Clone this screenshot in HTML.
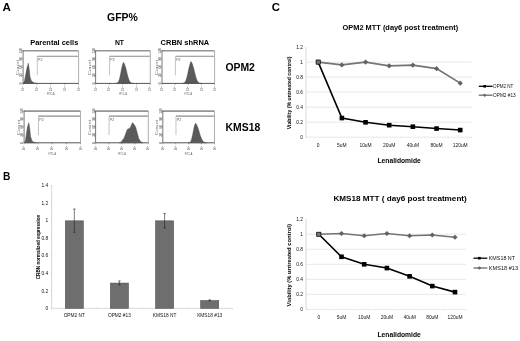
<!DOCTYPE html>
<html><head><meta charset="utf-8"><title>Figure</title>
<style>
html,body{margin:0;padding:0;background:#fff;}
body{width:520px;height:341px;overflow:hidden;}
svg{display:block;filter:blur(0.4px);font-family:"Liberation Sans", sans-serif;}
</style></head>
<body>
<svg width="520" height="341" viewBox="0 0 520 341">
<rect x="0" y="0" width="520" height="341" fill="#fff"/>
<text x="2.6" y="11.2" font-size="11.2" font-weight="bold" fill="#000" text-anchor="start" textLength="8.4" lengthAdjust="spacingAndGlyphs">A</text>
<text x="107.1" y="21.3" font-size="10.9" font-weight="bold" fill="#000" text-anchor="start" textLength="30.8" lengthAdjust="spacingAndGlyphs">GFP%</text>
<text x="30.2" y="45.3" font-size="7.5" font-weight="bold" fill="#000" text-anchor="start" textLength="48.1" lengthAdjust="spacingAndGlyphs">Parental cells</text>
<text x="114.9" y="45.3" font-size="7.5" font-weight="bold" fill="#000" text-anchor="start" textLength="9.1" lengthAdjust="spacingAndGlyphs">NT</text>
<text x="160.6" y="45.3" font-size="7.5" font-weight="bold" fill="#000" text-anchor="start" textLength="48.6" lengthAdjust="spacingAndGlyphs">CRBN shRNA</text>
<text x="225.4" y="70.9" font-size="10.7" font-weight="bold" fill="#000" text-anchor="start" textLength="29.5" lengthAdjust="spacingAndGlyphs">OPM2</text>
<text x="225.6" y="130.6" font-size="10.5" font-weight="bold" fill="#000" text-anchor="start" textLength="34.6" lengthAdjust="spacingAndGlyphs">KMS18</text>
<line x1="21.90" y1="83.40" x2="23.10" y2="83.40" stroke="#777" stroke-width="0.6"/>
<line x1="21.90" y1="75.25" x2="23.10" y2="75.25" stroke="#777" stroke-width="0.6"/>
<line x1="21.90" y1="67.10" x2="23.10" y2="67.10" stroke="#777" stroke-width="0.6"/>
<line x1="21.90" y1="58.95" x2="23.10" y2="58.95" stroke="#777" stroke-width="0.6"/>
<line x1="21.90" y1="50.80" x2="23.10" y2="50.80" stroke="#777" stroke-width="0.6"/>
<text transform="translate(22.10,83.40) rotate(-90)" x="0" y="0" font-size="3.3" fill="#444" text-anchor="middle">0</text>
<text transform="translate(22.10,75.25) rotate(-90)" x="0" y="0" font-size="3.3" fill="#444" text-anchor="middle">30</text>
<text transform="translate(22.10,67.10) rotate(-90)" x="0" y="0" font-size="3.3" fill="#444" text-anchor="middle">60</text>
<text transform="translate(22.10,58.95) rotate(-90)" x="0" y="0" font-size="3.3" fill="#444" text-anchor="middle">90</text>
<text transform="translate(22.10,50.80) rotate(-90)" x="0" y="0" font-size="3.3" fill="#444" text-anchor="middle">120</text>
<text transform="translate(18.70,67.60) rotate(-90)" x="0" y="0" font-size="3.2" fill="#777" text-anchor="middle" textLength="15.5" lengthAdjust="spacingAndGlyphs">Count</text>
<line x1="23.10" y1="83.40" x2="23.10" y2="84.90" stroke="#777" stroke-width="0.6"/>
<text transform="translate(24.20,88.60) rotate(-90)" x="0" y="0" font-size="3.0" fill="#555" text-anchor="middle">10<tspan font-size="2.2" dy="-1">1</tspan></text>
<line x1="36.98" y1="83.40" x2="36.98" y2="84.90" stroke="#777" stroke-width="0.6"/>
<text transform="translate(38.08,88.60) rotate(-90)" x="0" y="0" font-size="3.0" fill="#555" text-anchor="middle">10<tspan font-size="2.2" dy="-1">2</tspan></text>
<line x1="50.85" y1="83.40" x2="50.85" y2="84.90" stroke="#777" stroke-width="0.6"/>
<text transform="translate(51.95,88.60) rotate(-90)" x="0" y="0" font-size="3.0" fill="#555" text-anchor="middle">10<tspan font-size="2.2" dy="-1">3</tspan></text>
<line x1="64.72" y1="83.40" x2="64.72" y2="84.90" stroke="#777" stroke-width="0.6"/>
<text transform="translate(65.82,88.60) rotate(-90)" x="0" y="0" font-size="3.0" fill="#555" text-anchor="middle">10<tspan font-size="2.2" dy="-1">4</tspan></text>
<line x1="78.60" y1="83.40" x2="78.60" y2="84.90" stroke="#777" stroke-width="0.6"/>
<text transform="translate(79.70,88.60) rotate(-90)" x="0" y="0" font-size="3.0" fill="#555" text-anchor="middle">10<tspan font-size="2.2" dy="-1">5</tspan></text>
<text x="50.85" y="95.30" font-size="3.4" fill="#555" text-anchor="middle" textLength="7.6" lengthAdjust="spacingAndGlyphs">FITC-A</text>
<path d="M23.38,83.40 L23.66,82.75 L24.49,80.79 L25.60,74.92 L26.98,67.75 L28.32,63.19 L29.21,69.06 L30.04,76.88 L31.43,81.12 L34.20,82.91 L37.53,83.40 Z" fill="#5a5a5a" stroke="#444" stroke-width="0.4"/>
<line x1="23.10" y1="50.80" x2="78.60" y2="50.80" stroke="#959595" stroke-width="1.6"/>
<line x1="78.60" y1="50.80" x2="78.60" y2="83.40" stroke="#999" stroke-width="0.8"/>
<line x1="23.10" y1="50.10" x2="23.10" y2="83.40" stroke="#555" stroke-width="0.8"/>
<line x1="23.10" y1="83.40" x2="78.60" y2="83.40" stroke="#555" stroke-width="1"/>
<line x1="37.25" y1="56.30" x2="78.00" y2="56.30" stroke="#8a8a8a" stroke-width="1.1"/>
<line x1="37.25" y1="56.30" x2="37.25" y2="75.30" stroke="#aaa" stroke-width="0.7"/>
<text x="38.05" y="61.10" font-size="3.6" fill="#555">P2</text>
<line x1="94.40" y1="83.40" x2="95.60" y2="83.40" stroke="#777" stroke-width="0.6"/>
<line x1="94.40" y1="75.25" x2="95.60" y2="75.25" stroke="#777" stroke-width="0.6"/>
<line x1="94.40" y1="67.10" x2="95.60" y2="67.10" stroke="#777" stroke-width="0.6"/>
<line x1="94.40" y1="58.95" x2="95.60" y2="58.95" stroke="#777" stroke-width="0.6"/>
<line x1="94.40" y1="50.80" x2="95.60" y2="50.80" stroke="#777" stroke-width="0.6"/>
<text transform="translate(94.60,83.40) rotate(-90)" x="0" y="0" font-size="3.3" fill="#444" text-anchor="middle">0</text>
<text transform="translate(94.60,75.25) rotate(-90)" x="0" y="0" font-size="3.3" fill="#444" text-anchor="middle">30</text>
<text transform="translate(94.60,67.10) rotate(-90)" x="0" y="0" font-size="3.3" fill="#444" text-anchor="middle">60</text>
<text transform="translate(94.60,58.95) rotate(-90)" x="0" y="0" font-size="3.3" fill="#444" text-anchor="middle">90</text>
<text transform="translate(94.60,50.80) rotate(-90)" x="0" y="0" font-size="3.3" fill="#444" text-anchor="middle">120</text>
<text transform="translate(91.20,67.60) rotate(-90)" x="0" y="0" font-size="3.2" fill="#777" text-anchor="middle" textLength="15.5" lengthAdjust="spacingAndGlyphs">Count</text>
<line x1="95.60" y1="83.40" x2="95.60" y2="84.90" stroke="#777" stroke-width="0.6"/>
<text transform="translate(96.70,88.60) rotate(-90)" x="0" y="0" font-size="3.0" fill="#555" text-anchor="middle">10<tspan font-size="2.2" dy="-1">1</tspan></text>
<line x1="109.28" y1="83.40" x2="109.28" y2="84.90" stroke="#777" stroke-width="0.6"/>
<text transform="translate(110.38,88.60) rotate(-90)" x="0" y="0" font-size="3.0" fill="#555" text-anchor="middle">10<tspan font-size="2.2" dy="-1">2</tspan></text>
<line x1="122.95" y1="83.40" x2="122.95" y2="84.90" stroke="#777" stroke-width="0.6"/>
<text transform="translate(124.05,88.60) rotate(-90)" x="0" y="0" font-size="3.0" fill="#555" text-anchor="middle">10<tspan font-size="2.2" dy="-1">3</tspan></text>
<line x1="136.62" y1="83.40" x2="136.62" y2="84.90" stroke="#777" stroke-width="0.6"/>
<text transform="translate(137.72,88.60) rotate(-90)" x="0" y="0" font-size="3.0" fill="#555" text-anchor="middle">10<tspan font-size="2.2" dy="-1">4</tspan></text>
<line x1="150.30" y1="83.40" x2="150.30" y2="84.90" stroke="#777" stroke-width="0.6"/>
<text transform="translate(151.40,88.60) rotate(-90)" x="0" y="0" font-size="3.0" fill="#555" text-anchor="middle">10<tspan font-size="2.2" dy="-1">5</tspan></text>
<text x="122.95" y="95.30" font-size="3.4" fill="#555" text-anchor="middle" textLength="7.6" lengthAdjust="spacingAndGlyphs">FITC-A</text>
<path d="M115.74,83.40 L115.74,83.36 L116.07,83.33 L116.39,83.29 L116.71,83.21 L117.04,83.10 L117.36,82.93 L117.68,82.69 L118.00,82.34 L118.33,81.88 L118.65,81.27 L118.97,80.49 L119.30,79.52 L119.62,78.36 L119.94,77.02 L120.27,75.51 L120.59,73.88 L120.91,72.18 L121.24,70.48 L121.56,68.84 L121.88,67.35 L122.20,66.07 L122.53,64.83 L122.85,63.71 L123.17,62.90 L123.50,62.37 L123.91,62.90 L124.33,63.71 L124.74,64.83 L125.16,66.07 L125.57,67.35 L125.99,68.84 L126.40,70.48 L126.82,72.18 L127.24,73.88 L127.65,75.51 L128.07,77.02 L128.48,78.36 L128.90,79.52 L129.31,80.49 L129.73,81.27 L130.14,81.88 L130.56,82.34 L130.97,82.69 L131.39,82.93 L131.80,83.10 L132.22,83.21 L132.64,83.29 L133.05,83.33 L133.47,83.36 L133.47,83.40 Z" fill="#5a5a5a" stroke="#444" stroke-width="0.4"/>
<line x1="95.60" y1="50.80" x2="150.30" y2="50.80" stroke="#959595" stroke-width="1.6"/>
<line x1="150.30" y1="50.80" x2="150.30" y2="83.40" stroke="#999" stroke-width="0.8"/>
<line x1="95.60" y1="50.10" x2="95.60" y2="83.40" stroke="#555" stroke-width="0.8"/>
<line x1="95.60" y1="83.40" x2="150.30" y2="83.40" stroke="#555" stroke-width="1"/>
<line x1="109.55" y1="56.30" x2="149.70" y2="56.30" stroke="#8a8a8a" stroke-width="1.1"/>
<line x1="109.55" y1="56.30" x2="109.55" y2="75.30" stroke="#aaa" stroke-width="0.7"/>
<text x="110.35" y="61.10" font-size="3.6" fill="#555">P2</text>
<line x1="160.80" y1="83.40" x2="162.00" y2="83.40" stroke="#777" stroke-width="0.6"/>
<line x1="160.80" y1="75.25" x2="162.00" y2="75.25" stroke="#777" stroke-width="0.6"/>
<line x1="160.80" y1="67.10" x2="162.00" y2="67.10" stroke="#777" stroke-width="0.6"/>
<line x1="160.80" y1="58.95" x2="162.00" y2="58.95" stroke="#777" stroke-width="0.6"/>
<line x1="160.80" y1="50.80" x2="162.00" y2="50.80" stroke="#777" stroke-width="0.6"/>
<text transform="translate(161.00,83.40) rotate(-90)" x="0" y="0" font-size="3.3" fill="#444" text-anchor="middle">0</text>
<text transform="translate(161.00,75.25) rotate(-90)" x="0" y="0" font-size="3.3" fill="#444" text-anchor="middle">30</text>
<text transform="translate(161.00,67.10) rotate(-90)" x="0" y="0" font-size="3.3" fill="#444" text-anchor="middle">60</text>
<text transform="translate(161.00,58.95) rotate(-90)" x="0" y="0" font-size="3.3" fill="#444" text-anchor="middle">90</text>
<text transform="translate(161.00,50.80) rotate(-90)" x="0" y="0" font-size="3.3" fill="#444" text-anchor="middle">120</text>
<text transform="translate(157.60,67.60) rotate(-90)" x="0" y="0" font-size="3.2" fill="#777" text-anchor="middle" textLength="15.5" lengthAdjust="spacingAndGlyphs">Count</text>
<line x1="162.00" y1="83.40" x2="162.00" y2="84.90" stroke="#777" stroke-width="0.6"/>
<text transform="translate(163.10,88.60) rotate(-90)" x="0" y="0" font-size="3.0" fill="#555" text-anchor="middle">10<tspan font-size="2.2" dy="-1">1</tspan></text>
<line x1="175.15" y1="83.40" x2="175.15" y2="84.90" stroke="#777" stroke-width="0.6"/>
<text transform="translate(176.25,88.60) rotate(-90)" x="0" y="0" font-size="3.0" fill="#555" text-anchor="middle">10<tspan font-size="2.2" dy="-1">2</tspan></text>
<line x1="188.30" y1="83.40" x2="188.30" y2="84.90" stroke="#777" stroke-width="0.6"/>
<text transform="translate(189.40,88.60) rotate(-90)" x="0" y="0" font-size="3.0" fill="#555" text-anchor="middle">10<tspan font-size="2.2" dy="-1">3</tspan></text>
<line x1="201.45" y1="83.40" x2="201.45" y2="84.90" stroke="#777" stroke-width="0.6"/>
<text transform="translate(202.55,88.60) rotate(-90)" x="0" y="0" font-size="3.0" fill="#555" text-anchor="middle">10<tspan font-size="2.2" dy="-1">4</tspan></text>
<line x1="214.60" y1="83.40" x2="214.60" y2="84.90" stroke="#777" stroke-width="0.6"/>
<text transform="translate(215.70,88.60) rotate(-90)" x="0" y="0" font-size="3.0" fill="#555" text-anchor="middle">10<tspan font-size="2.2" dy="-1">5</tspan></text>
<text x="188.30" y="95.30" font-size="3.4" fill="#555" text-anchor="middle" textLength="7.6" lengthAdjust="spacingAndGlyphs">FITC-A</text>
<path d="M182.21,83.40 L182.21,83.36 L182.58,83.33 L182.95,83.28 L183.32,83.20 L183.69,83.09 L184.06,82.91 L184.43,82.66 L184.80,82.30 L185.17,81.82 L185.54,81.18 L185.91,80.37 L186.28,79.37 L186.65,78.17 L187.02,76.77 L187.39,75.21 L187.76,73.51 L188.13,71.75 L188.50,69.98 L188.87,68.28 L189.24,66.73 L189.61,65.40 L189.98,64.11 L190.35,62.95 L190.72,62.10 L191.09,61.56 L191.52,62.10 L191.95,62.95 L192.37,64.11 L192.80,65.40 L193.23,66.73 L193.66,68.28 L194.09,69.98 L194.52,71.75 L194.95,73.51 L195.38,75.21 L195.81,76.77 L196.24,78.17 L196.67,79.37 L197.09,80.37 L197.52,81.18 L197.95,81.82 L198.38,82.30 L198.81,82.66 L199.24,82.91 L199.67,83.09 L200.10,83.20 L200.53,83.28 L200.96,83.33 L201.38,83.36 L201.38,83.40 Z" fill="#5a5a5a" stroke="#444" stroke-width="0.4"/>
<line x1="162.00" y1="50.80" x2="214.60" y2="50.80" stroke="#959595" stroke-width="1.6"/>
<line x1="214.60" y1="50.80" x2="214.60" y2="83.40" stroke="#999" stroke-width="0.8"/>
<line x1="162.00" y1="50.10" x2="162.00" y2="83.40" stroke="#555" stroke-width="0.8"/>
<line x1="162.00" y1="83.40" x2="214.60" y2="83.40" stroke="#555" stroke-width="1"/>
<line x1="175.41" y1="56.30" x2="214.00" y2="56.30" stroke="#8a8a8a" stroke-width="1.1"/>
<line x1="175.41" y1="56.30" x2="175.41" y2="75.30" stroke="#aaa" stroke-width="0.7"/>
<text x="176.21" y="61.10" font-size="3.6" fill="#555">P2</text>
<line x1="22.90" y1="142.80" x2="24.10" y2="142.80" stroke="#777" stroke-width="0.6"/>
<line x1="22.90" y1="134.88" x2="24.10" y2="134.88" stroke="#777" stroke-width="0.6"/>
<line x1="22.90" y1="126.95" x2="24.10" y2="126.95" stroke="#777" stroke-width="0.6"/>
<line x1="22.90" y1="119.03" x2="24.10" y2="119.03" stroke="#777" stroke-width="0.6"/>
<line x1="22.90" y1="111.10" x2="24.10" y2="111.10" stroke="#777" stroke-width="0.6"/>
<text transform="translate(23.10,142.80) rotate(-90)" x="0" y="0" font-size="3.3" fill="#444" text-anchor="middle">0</text>
<text transform="translate(23.10,134.88) rotate(-90)" x="0" y="0" font-size="3.3" fill="#444" text-anchor="middle">30</text>
<text transform="translate(23.10,126.95) rotate(-90)" x="0" y="0" font-size="3.3" fill="#444" text-anchor="middle">60</text>
<text transform="translate(23.10,119.03) rotate(-90)" x="0" y="0" font-size="3.3" fill="#444" text-anchor="middle">90</text>
<text transform="translate(23.10,111.10) rotate(-90)" x="0" y="0" font-size="3.3" fill="#444" text-anchor="middle">120</text>
<text transform="translate(19.70,127.45) rotate(-90)" x="0" y="0" font-size="3.2" fill="#777" text-anchor="middle" textLength="15.5" lengthAdjust="spacingAndGlyphs">Count</text>
<line x1="24.10" y1="142.80" x2="24.10" y2="144.30" stroke="#777" stroke-width="0.6"/>
<text transform="translate(25.20,148.00) rotate(-90)" x="0" y="0" font-size="3.0" fill="#555" text-anchor="middle">10<tspan font-size="2.2" dy="-1">1</tspan></text>
<line x1="38.20" y1="142.80" x2="38.20" y2="144.30" stroke="#777" stroke-width="0.6"/>
<text transform="translate(39.30,148.00) rotate(-90)" x="0" y="0" font-size="3.0" fill="#555" text-anchor="middle">10<tspan font-size="2.2" dy="-1">2</tspan></text>
<line x1="52.30" y1="142.80" x2="52.30" y2="144.30" stroke="#777" stroke-width="0.6"/>
<text transform="translate(53.40,148.00) rotate(-90)" x="0" y="0" font-size="3.0" fill="#555" text-anchor="middle">10<tspan font-size="2.2" dy="-1">3</tspan></text>
<line x1="66.40" y1="142.80" x2="66.40" y2="144.30" stroke="#777" stroke-width="0.6"/>
<text transform="translate(67.50,148.00) rotate(-90)" x="0" y="0" font-size="3.0" fill="#555" text-anchor="middle">10<tspan font-size="2.2" dy="-1">4</tspan></text>
<line x1="80.50" y1="142.80" x2="80.50" y2="144.30" stroke="#777" stroke-width="0.6"/>
<text transform="translate(81.60,148.00) rotate(-90)" x="0" y="0" font-size="3.0" fill="#555" text-anchor="middle">10<tspan font-size="2.2" dy="-1">5</tspan></text>
<text x="52.30" y="154.70" font-size="3.4" fill="#555" text-anchor="middle" textLength="7.6" lengthAdjust="spacingAndGlyphs">FITC-A</text>
<path d="M24.38,142.80 L24.66,142.17 L25.51,140.26 L26.36,133.92 L27.48,126.95 L28.89,122.83 L29.74,128.53 L30.59,136.46 L32.00,140.90 L34.25,142.32 L36.51,142.80 Z" fill="#5a5a5a" stroke="#444" stroke-width="0.4"/>
<line x1="24.10" y1="111.10" x2="80.50" y2="111.10" stroke="#959595" stroke-width="1.6"/>
<line x1="80.50" y1="111.10" x2="80.50" y2="142.80" stroke="#999" stroke-width="0.8"/>
<line x1="24.10" y1="110.40" x2="24.10" y2="142.80" stroke="#555" stroke-width="0.8"/>
<line x1="24.10" y1="142.80" x2="80.50" y2="142.80" stroke="#555" stroke-width="1"/>
<line x1="38.48" y1="116.10" x2="79.90" y2="116.10" stroke="#8a8a8a" stroke-width="1.1"/>
<line x1="38.48" y1="116.10" x2="38.48" y2="135.10" stroke="#aaa" stroke-width="0.7"/>
<text x="39.28" y="120.90" font-size="3.6" fill="#555">P2</text>
<line x1="94.40" y1="142.80" x2="95.60" y2="142.80" stroke="#777" stroke-width="0.6"/>
<line x1="94.40" y1="134.88" x2="95.60" y2="134.88" stroke="#777" stroke-width="0.6"/>
<line x1="94.40" y1="126.95" x2="95.60" y2="126.95" stroke="#777" stroke-width="0.6"/>
<line x1="94.40" y1="119.03" x2="95.60" y2="119.03" stroke="#777" stroke-width="0.6"/>
<line x1="94.40" y1="111.10" x2="95.60" y2="111.10" stroke="#777" stroke-width="0.6"/>
<text transform="translate(94.60,142.80) rotate(-90)" x="0" y="0" font-size="3.3" fill="#444" text-anchor="middle">0</text>
<text transform="translate(94.60,134.88) rotate(-90)" x="0" y="0" font-size="3.3" fill="#444" text-anchor="middle">30</text>
<text transform="translate(94.60,126.95) rotate(-90)" x="0" y="0" font-size="3.3" fill="#444" text-anchor="middle">60</text>
<text transform="translate(94.60,119.03) rotate(-90)" x="0" y="0" font-size="3.3" fill="#444" text-anchor="middle">90</text>
<text transform="translate(94.60,111.10) rotate(-90)" x="0" y="0" font-size="3.3" fill="#444" text-anchor="middle">120</text>
<text transform="translate(91.20,127.45) rotate(-90)" x="0" y="0" font-size="3.2" fill="#777" text-anchor="middle" textLength="15.5" lengthAdjust="spacingAndGlyphs">Count</text>
<line x1="95.60" y1="142.80" x2="95.60" y2="144.30" stroke="#777" stroke-width="0.6"/>
<text transform="translate(96.70,148.00) rotate(-90)" x="0" y="0" font-size="3.0" fill="#555" text-anchor="middle">10<tspan font-size="2.2" dy="-1">1</tspan></text>
<line x1="108.78" y1="142.80" x2="108.78" y2="144.30" stroke="#777" stroke-width="0.6"/>
<text transform="translate(109.88,148.00) rotate(-90)" x="0" y="0" font-size="3.0" fill="#555" text-anchor="middle">10<tspan font-size="2.2" dy="-1">2</tspan></text>
<line x1="121.95" y1="142.80" x2="121.95" y2="144.30" stroke="#777" stroke-width="0.6"/>
<text transform="translate(123.05,148.00) rotate(-90)" x="0" y="0" font-size="3.0" fill="#555" text-anchor="middle">10<tspan font-size="2.2" dy="-1">3</tspan></text>
<line x1="135.12" y1="142.80" x2="135.12" y2="144.30" stroke="#777" stroke-width="0.6"/>
<text transform="translate(136.22,148.00) rotate(-90)" x="0" y="0" font-size="3.0" fill="#555" text-anchor="middle">10<tspan font-size="2.2" dy="-1">4</tspan></text>
<line x1="148.30" y1="142.80" x2="148.30" y2="144.30" stroke="#777" stroke-width="0.6"/>
<text transform="translate(149.40,148.00) rotate(-90)" x="0" y="0" font-size="3.0" fill="#555" text-anchor="middle">10<tspan font-size="2.2" dy="-1">5</tspan></text>
<text x="121.95" y="154.70" font-size="3.4" fill="#555" text-anchor="middle" textLength="7.6" lengthAdjust="spacingAndGlyphs">FITC-A</text>
<path d="M119.31,142.80 L120.90,142.17 L124.06,138.05 L127.22,129.49 L130.12,127.90 L132.49,122.51 L134.07,124.41 L135.65,126.95 L137.23,132.66 L138.81,138.68 L140.92,141.85 L143.03,142.80 Z" fill="#5a5a5a" stroke="#444" stroke-width="0.4"/>
<line x1="95.60" y1="111.10" x2="148.30" y2="111.10" stroke="#959595" stroke-width="1.6"/>
<line x1="148.30" y1="111.10" x2="148.30" y2="142.80" stroke="#999" stroke-width="0.8"/>
<line x1="95.60" y1="110.40" x2="95.60" y2="142.80" stroke="#555" stroke-width="0.8"/>
<line x1="95.60" y1="142.80" x2="148.30" y2="142.80" stroke="#555" stroke-width="1"/>
<line x1="109.04" y1="116.10" x2="147.70" y2="116.10" stroke="#8a8a8a" stroke-width="1.1"/>
<line x1="109.04" y1="116.10" x2="109.04" y2="135.10" stroke="#aaa" stroke-width="0.7"/>
<text x="109.84" y="120.90" font-size="3.6" fill="#555">P2</text>
<line x1="161.60" y1="142.80" x2="162.80" y2="142.80" stroke="#777" stroke-width="0.6"/>
<line x1="161.60" y1="134.88" x2="162.80" y2="134.88" stroke="#777" stroke-width="0.6"/>
<line x1="161.60" y1="126.95" x2="162.80" y2="126.95" stroke="#777" stroke-width="0.6"/>
<line x1="161.60" y1="119.03" x2="162.80" y2="119.03" stroke="#777" stroke-width="0.6"/>
<line x1="161.60" y1="111.10" x2="162.80" y2="111.10" stroke="#777" stroke-width="0.6"/>
<text transform="translate(161.80,142.80) rotate(-90)" x="0" y="0" font-size="3.3" fill="#444" text-anchor="middle">0</text>
<text transform="translate(161.80,134.88) rotate(-90)" x="0" y="0" font-size="3.3" fill="#444" text-anchor="middle">30</text>
<text transform="translate(161.80,126.95) rotate(-90)" x="0" y="0" font-size="3.3" fill="#444" text-anchor="middle">60</text>
<text transform="translate(161.80,119.03) rotate(-90)" x="0" y="0" font-size="3.3" fill="#444" text-anchor="middle">90</text>
<text transform="translate(161.80,111.10) rotate(-90)" x="0" y="0" font-size="3.3" fill="#444" text-anchor="middle">120</text>
<text transform="translate(158.40,127.45) rotate(-90)" x="0" y="0" font-size="3.2" fill="#777" text-anchor="middle" textLength="15.5" lengthAdjust="spacingAndGlyphs">Count</text>
<line x1="162.80" y1="142.80" x2="162.80" y2="144.30" stroke="#777" stroke-width="0.6"/>
<text transform="translate(163.90,148.00) rotate(-90)" x="0" y="0" font-size="3.0" fill="#555" text-anchor="middle">10<tspan font-size="2.2" dy="-1">1</tspan></text>
<line x1="175.73" y1="142.80" x2="175.73" y2="144.30" stroke="#777" stroke-width="0.6"/>
<text transform="translate(176.83,148.00) rotate(-90)" x="0" y="0" font-size="3.0" fill="#555" text-anchor="middle">10<tspan font-size="2.2" dy="-1">2</tspan></text>
<line x1="188.65" y1="142.80" x2="188.65" y2="144.30" stroke="#777" stroke-width="0.6"/>
<text transform="translate(189.75,148.00) rotate(-90)" x="0" y="0" font-size="3.0" fill="#555" text-anchor="middle">10<tspan font-size="2.2" dy="-1">3</tspan></text>
<line x1="201.57" y1="142.80" x2="201.57" y2="144.30" stroke="#777" stroke-width="0.6"/>
<text transform="translate(202.67,148.00) rotate(-90)" x="0" y="0" font-size="3.0" fill="#555" text-anchor="middle">10<tspan font-size="2.2" dy="-1">4</tspan></text>
<line x1="214.50" y1="142.80" x2="214.50" y2="144.30" stroke="#777" stroke-width="0.6"/>
<text transform="translate(215.60,148.00) rotate(-90)" x="0" y="0" font-size="3.0" fill="#555" text-anchor="middle">10<tspan font-size="2.2" dy="-1">5</tspan></text>
<text x="188.65" y="154.70" font-size="3.4" fill="#555" text-anchor="middle" textLength="7.6" lengthAdjust="spacingAndGlyphs">FITC-A</text>
<path d="M188.20,142.80 L188.20,142.76 L188.50,142.74 L188.81,142.69 L189.11,142.62 L189.42,142.52 L189.72,142.36 L190.03,142.13 L190.34,141.81 L190.64,141.38 L190.95,140.81 L191.25,140.08 L191.56,139.17 L191.86,138.09 L192.17,136.84 L192.47,135.43 L192.78,133.90 L193.08,132.32 L193.39,130.72 L193.69,129.19 L194.00,127.80 L194.30,126.60 L194.61,125.44 L194.92,124.39 L195.22,123.64 L195.53,123.15 L196.01,123.64 L196.49,124.39 L196.97,125.44 L197.45,126.60 L197.93,127.80 L198.41,129.19 L198.88,130.72 L199.36,132.32 L199.84,133.90 L200.32,135.43 L200.80,136.84 L201.28,138.09 L201.76,139.17 L202.24,140.08 L202.72,140.81 L203.20,141.38 L203.68,141.81 L204.16,142.13 L204.64,142.36 L205.12,142.52 L205.60,142.62 L206.08,142.69 L206.56,142.74 L207.04,142.76 L207.04,142.80 Z" fill="#5a5a5a" stroke="#444" stroke-width="0.4"/>
<line x1="162.80" y1="111.10" x2="214.50" y2="111.10" stroke="#959595" stroke-width="1.6"/>
<line x1="214.50" y1="111.10" x2="214.50" y2="142.80" stroke="#999" stroke-width="0.8"/>
<line x1="162.80" y1="110.40" x2="162.80" y2="142.80" stroke="#555" stroke-width="0.8"/>
<line x1="162.80" y1="142.80" x2="214.50" y2="142.80" stroke="#555" stroke-width="1"/>
<line x1="175.98" y1="116.10" x2="213.90" y2="116.10" stroke="#8a8a8a" stroke-width="1.1"/>
<line x1="175.98" y1="116.10" x2="175.98" y2="135.10" stroke="#aaa" stroke-width="0.7"/>
<text x="176.78" y="120.90" font-size="3.6" fill="#555">P2</text>
<text x="2.9" y="179.5" font-size="10.8" font-weight="bold" fill="#000" text-anchor="start" textLength="7.4" lengthAdjust="spacingAndGlyphs">B</text>
<line x1="51.6" y1="185.4" x2="51.6" y2="308.3" stroke="#c8c8c8" stroke-width="0.7"/>
<line x1="51.6" y1="308.3" x2="232.5" y2="308.3" stroke="#c8c8c8" stroke-width="0.7"/>
<line x1="50.6" y1="308.30" x2="51.6" y2="308.30" stroke="#bbb" stroke-width="0.6"/>
<text x="48.2" y="310.05" font-size="4.9" fill="#111" text-anchor="end">0</text>
<line x1="50.6" y1="290.77" x2="51.6" y2="290.77" stroke="#bbb" stroke-width="0.6"/>
<text x="48.2" y="292.52" font-size="4.9" fill="#111" text-anchor="end">0.2</text>
<line x1="50.6" y1="273.24" x2="51.6" y2="273.24" stroke="#bbb" stroke-width="0.6"/>
<text x="48.2" y="274.99" font-size="4.9" fill="#111" text-anchor="end">0.4</text>
<line x1="50.6" y1="255.71" x2="51.6" y2="255.71" stroke="#bbb" stroke-width="0.6"/>
<text x="48.2" y="257.46" font-size="4.9" fill="#111" text-anchor="end">0.6</text>
<line x1="50.6" y1="238.18" x2="51.6" y2="238.18" stroke="#bbb" stroke-width="0.6"/>
<text x="48.2" y="239.93" font-size="4.9" fill="#111" text-anchor="end">0.8</text>
<line x1="50.6" y1="220.65" x2="51.6" y2="220.65" stroke="#bbb" stroke-width="0.6"/>
<text x="48.2" y="222.40" font-size="4.9" fill="#111" text-anchor="end">1</text>
<line x1="50.6" y1="203.12" x2="51.6" y2="203.12" stroke="#bbb" stroke-width="0.6"/>
<text x="48.2" y="204.87" font-size="4.9" fill="#111" text-anchor="end">1.2</text>
<line x1="50.6" y1="185.59" x2="51.6" y2="185.59" stroke="#bbb" stroke-width="0.6"/>
<text x="48.2" y="187.34" font-size="4.9" fill="#111" text-anchor="end">1.4</text>
<line x1="51.60" y1="308.3" x2="51.60" y2="309.3" stroke="#bbb" stroke-width="0.6"/>
<line x1="96.83" y1="308.3" x2="96.83" y2="309.3" stroke="#bbb" stroke-width="0.6"/>
<line x1="142.05" y1="308.3" x2="142.05" y2="309.3" stroke="#bbb" stroke-width="0.6"/>
<line x1="187.28" y1="308.3" x2="187.28" y2="309.3" stroke="#bbb" stroke-width="0.6"/>
<line x1="232.50" y1="308.3" x2="232.50" y2="309.3" stroke="#bbb" stroke-width="0.6"/>
<rect x="65.30" y="220.85" width="18.0" height="87.45" fill="#6e6e6e" stroke="#505050" stroke-width="0.6"/>
<line x1="74.3" y1="209.08" x2="74.3" y2="232.22" stroke="#222" stroke-width="0.6"/>
<line x1="73.1" y1="209.08" x2="75.5" y2="209.08" stroke="#222" stroke-width="0.6"/>
<line x1="73.1" y1="232.22" x2="75.5" y2="232.22" stroke="#222" stroke-width="0.6"/>
<text x="74.3" y="317.0" font-size="4.8" fill="#111" text-anchor="middle">OPM2 NT</text>
<rect x="110.40" y="283.08" width="18.0" height="25.22" fill="#6e6e6e" stroke="#505050" stroke-width="0.6"/>
<line x1="119.4" y1="280.95" x2="119.4" y2="284.81" stroke="#222" stroke-width="0.6"/>
<line x1="118.2" y1="280.95" x2="120.60000000000001" y2="280.95" stroke="#222" stroke-width="0.6"/>
<line x1="118.2" y1="284.81" x2="120.60000000000001" y2="284.81" stroke="#222" stroke-width="0.6"/>
<text x="119.4" y="317.0" font-size="4.8" fill="#111" text-anchor="middle">OPM2 #13</text>
<rect x="155.60" y="220.85" width="18.0" height="87.45" fill="#6e6e6e" stroke="#505050" stroke-width="0.6"/>
<line x1="164.6" y1="213.38" x2="164.6" y2="227.92" stroke="#222" stroke-width="0.6"/>
<line x1="163.4" y1="213.38" x2="165.79999999999998" y2="213.38" stroke="#222" stroke-width="0.6"/>
<line x1="163.4" y1="227.92" x2="165.79999999999998" y2="227.92" stroke="#222" stroke-width="0.6"/>
<text x="164.6" y="317.0" font-size="4.8" fill="#111" text-anchor="middle">KMS18 NT</text>
<rect x="200.70" y="300.61" width="18.0" height="7.69" fill="#6e6e6e" stroke="#505050" stroke-width="0.6"/>
<line x1="209.7" y1="299.89" x2="209.7" y2="300.94" stroke="#222" stroke-width="0.6"/>
<line x1="208.5" y1="299.89" x2="210.89999999999998" y2="299.89" stroke="#222" stroke-width="0.6"/>
<line x1="208.5" y1="300.94" x2="210.89999999999998" y2="300.94" stroke="#222" stroke-width="0.6"/>
<text x="209.7" y="317.0" font-size="4.8" fill="#111" text-anchor="middle">KMS18 #13</text>
<text transform="translate(37.9,246.9) rotate(-90)" x="0" y="1.84" font-size="5.1" font-weight="bold" fill="#000" text-anchor="middle" textLength="64.7" lengthAdjust="spacingAndGlyphs">CRBN normalized expression</text>
<text x="271.8" y="11.0" font-size="10.8" font-weight="bold" fill="#000" text-anchor="start" textLength="8.2" lengthAdjust="spacingAndGlyphs">C</text>
<text x="342.5" y="29.8" font-size="7.3" font-weight="bold" fill="#000" text-anchor="start" textLength="115.8" lengthAdjust="spacingAndGlyphs">OPM2 MTT (day6 post treatment)</text>
<line x1="306.0" y1="137.20" x2="471.9" y2="137.20" stroke="#d9d9d9" stroke-width="0.6"/>
<text x="303.00" y="138.95" font-size="4.9" fill="#111" text-anchor="end">0</text>
<line x1="306.0" y1="122.18" x2="471.9" y2="122.18" stroke="#d9d9d9" stroke-width="0.6"/>
<text x="303.00" y="123.93" font-size="4.9" fill="#111" text-anchor="end">0.2</text>
<line x1="306.0" y1="107.16" x2="471.9" y2="107.16" stroke="#d9d9d9" stroke-width="0.6"/>
<text x="303.00" y="108.91" font-size="4.9" fill="#111" text-anchor="end">0.4</text>
<line x1="306.0" y1="92.14" x2="471.9" y2="92.14" stroke="#d9d9d9" stroke-width="0.6"/>
<text x="303.00" y="93.89" font-size="4.9" fill="#111" text-anchor="end">0.6</text>
<line x1="306.0" y1="77.12" x2="471.9" y2="77.12" stroke="#d9d9d9" stroke-width="0.6"/>
<text x="303.00" y="78.87" font-size="4.9" fill="#111" text-anchor="end">0.8</text>
<line x1="306.0" y1="62.10" x2="471.9" y2="62.10" stroke="#d9d9d9" stroke-width="0.6"/>
<text x="303.00" y="63.85" font-size="4.9" fill="#111" text-anchor="end">1</text>
<text x="303.00" y="48.83" font-size="4.9" fill="#111" text-anchor="end">1.2</text>
<line x1="306.0" y1="47.08" x2="306.0" y2="137.20" stroke="#c8c8c8" stroke-width="0.7"/>
<line x1="306.37" y1="137.20" x2="306.37" y2="138.20" stroke="#ccc" stroke-width="0.5"/>
<line x1="330.04" y1="137.20" x2="330.04" y2="138.20" stroke="#ccc" stroke-width="0.5"/>
<line x1="353.71" y1="137.20" x2="353.71" y2="138.20" stroke="#ccc" stroke-width="0.5"/>
<line x1="377.38" y1="137.20" x2="377.38" y2="138.20" stroke="#ccc" stroke-width="0.5"/>
<line x1="401.05" y1="137.20" x2="401.05" y2="138.20" stroke="#ccc" stroke-width="0.5"/>
<line x1="424.72" y1="137.20" x2="424.72" y2="138.20" stroke="#ccc" stroke-width="0.5"/>
<line x1="448.39" y1="137.20" x2="448.39" y2="138.20" stroke="#ccc" stroke-width="0.5"/>
<line x1="472.06" y1="137.20" x2="472.06" y2="138.20" stroke="#ccc" stroke-width="0.5"/>
<text x="318.20" y="146.6" font-size="4.9" fill="#111" text-anchor="middle">0</text>
<text x="341.87" y="146.6" font-size="4.9" fill="#111" text-anchor="middle">5uM</text>
<text x="365.54" y="146.6" font-size="4.9" fill="#111" text-anchor="middle">10uM</text>
<text x="389.21" y="146.6" font-size="4.9" fill="#111" text-anchor="middle">20uM</text>
<text x="412.88" y="146.6" font-size="4.9" fill="#111" text-anchor="middle">40uM</text>
<text x="436.55" y="146.6" font-size="4.9" fill="#111" text-anchor="middle">80uM</text>
<text x="460.22" y="146.6" font-size="4.9" fill="#111" text-anchor="middle">120uM</text>
<text x="377.5" y="163.3" font-size="6.9" font-weight="bold" fill="#000" text-anchor="start" textLength="43.3" lengthAdjust="spacingAndGlyphs">Lenalidomide</text>
<text transform="translate(288.9,92.9) rotate(-90)" x="0" y="1.76" font-size="4.9" font-weight="bold" fill="#000" text-anchor="middle" textLength="72.8" lengthAdjust="spacingAndGlyphs">Viability (% untreated control)</text>
<polyline points="318.20,62.10 341.87,64.95 365.54,62.10 389.21,65.78 412.88,65.18 436.55,68.63 460.22,83.13" fill="none" stroke="#747474" stroke-width="1.7"/>
<path d="M315.60,62.10 L318.20,59.50 L320.80,62.10 L318.20,64.70 Z" fill="#626262"/>
<path d="M339.27,64.95 L341.87,62.35 L344.47,64.95 L341.87,67.55 Z" fill="#626262"/>
<path d="M362.94,62.10 L365.54,59.50 L368.14,62.10 L365.54,64.70 Z" fill="#626262"/>
<path d="M386.61,65.78 L389.21,63.18 L391.81,65.78 L389.21,68.38 Z" fill="#626262"/>
<path d="M410.28,65.18 L412.88,62.58 L415.48,65.18 L412.88,67.78 Z" fill="#626262"/>
<path d="M433.95,68.63 L436.55,66.03 L439.15,68.63 L436.55,71.23 Z" fill="#626262"/>
<path d="M457.62,83.13 L460.22,80.53 L462.82,83.13 L460.22,85.73 Z" fill="#626262"/>
<polyline points="318.20,62.10 341.87,118.05 365.54,122.33 389.21,125.18 412.88,126.69 436.55,128.56 460.22,130.07" fill="none" stroke="#000" stroke-width="1.6"/>
<rect x="315.90" y="59.80" width="4.6" height="4.6" fill="#000"/>
<rect x="339.57" y="115.75" width="4.6" height="4.6" fill="#000"/>
<rect x="363.24" y="120.03" width="4.6" height="4.6" fill="#000"/>
<rect x="386.91" y="122.88" width="4.6" height="4.6" fill="#000"/>
<rect x="410.58" y="124.39" width="4.6" height="4.6" fill="#000"/>
<rect x="434.25" y="126.26" width="4.6" height="4.6" fill="#000"/>
<rect x="457.92" y="127.77" width="4.6" height="4.6" fill="#000"/>
<rect x="316.20" y="60.10" width="4.0" height="4.0" fill="#7a7a7a" stroke="#222" stroke-width="0.7"/>
<line x1="478.8" y1="86.3" x2="492.6" y2="86.3" stroke="#000" stroke-width="1.3"/>
<rect x="483.40" y="85.00" width="2.6" height="2.6" fill="#000"/>
<line x1="478.8" y1="95.2" x2="492.6" y2="95.2" stroke="#747474" stroke-width="1.4"/>
<path d="M482.90,95.2 L484.70,93.4 L486.50,95.2 L484.70,97.0 Z" fill="#666"/>
<text x="493.1" y="88.40" font-size="4.9" fill="#111" text-anchor="start" textLength="20.2" lengthAdjust="spacingAndGlyphs">OPM2 NT</text>
<text x="493.1" y="97.30" font-size="4.9" fill="#111" text-anchor="start" textLength="22.6" lengthAdjust="spacingAndGlyphs">OPM2 #13</text>
<text x="333.4" y="201.1" font-size="7.0" font-weight="bold" fill="#000" text-anchor="start" textLength="133.4" lengthAdjust="spacingAndGlyphs">KMS18 MTT ( day6 post treatment)</text>
<line x1="306.1" y1="309.40" x2="465.8" y2="309.40" stroke="#d9d9d9" stroke-width="0.6"/>
<text x="303.10" y="311.15" font-size="4.9" fill="#111" text-anchor="end">0</text>
<line x1="306.1" y1="294.37" x2="465.8" y2="294.37" stroke="#d9d9d9" stroke-width="0.6"/>
<text x="303.10" y="296.12" font-size="4.9" fill="#111" text-anchor="end">0.2</text>
<line x1="306.1" y1="279.34" x2="465.8" y2="279.34" stroke="#d9d9d9" stroke-width="0.6"/>
<text x="303.10" y="281.09" font-size="4.9" fill="#111" text-anchor="end">0.4</text>
<line x1="306.1" y1="264.31" x2="465.8" y2="264.31" stroke="#d9d9d9" stroke-width="0.6"/>
<text x="303.10" y="266.06" font-size="4.9" fill="#111" text-anchor="end">0.6</text>
<line x1="306.1" y1="249.28" x2="465.8" y2="249.28" stroke="#d9d9d9" stroke-width="0.6"/>
<text x="303.10" y="251.03" font-size="4.9" fill="#111" text-anchor="end">0.8</text>
<line x1="306.1" y1="234.25" x2="465.8" y2="234.25" stroke="#d9d9d9" stroke-width="0.6"/>
<text x="303.10" y="236.00" font-size="4.9" fill="#111" text-anchor="end">1</text>
<text x="303.10" y="220.97" font-size="4.9" fill="#111" text-anchor="end">1.2</text>
<line x1="306.1" y1="219.22" x2="306.1" y2="309.40" stroke="#c8c8c8" stroke-width="0.7"/>
<line x1="307.45" y1="309.40" x2="307.45" y2="310.40" stroke="#ccc" stroke-width="0.5"/>
<line x1="330.15" y1="309.40" x2="330.15" y2="310.40" stroke="#ccc" stroke-width="0.5"/>
<line x1="352.85" y1="309.40" x2="352.85" y2="310.40" stroke="#ccc" stroke-width="0.5"/>
<line x1="375.55" y1="309.40" x2="375.55" y2="310.40" stroke="#ccc" stroke-width="0.5"/>
<line x1="398.25" y1="309.40" x2="398.25" y2="310.40" stroke="#ccc" stroke-width="0.5"/>
<line x1="420.95" y1="309.40" x2="420.95" y2="310.40" stroke="#ccc" stroke-width="0.5"/>
<line x1="443.65" y1="309.40" x2="443.65" y2="310.40" stroke="#ccc" stroke-width="0.5"/>
<line x1="466.35" y1="309.40" x2="466.35" y2="310.40" stroke="#ccc" stroke-width="0.5"/>
<text x="318.80" y="318.9" font-size="4.9" fill="#111" text-anchor="middle">0</text>
<text x="341.50" y="318.9" font-size="4.9" fill="#111" text-anchor="middle">5uM</text>
<text x="364.20" y="318.9" font-size="4.9" fill="#111" text-anchor="middle">10uM</text>
<text x="386.90" y="318.9" font-size="4.9" fill="#111" text-anchor="middle">20uM</text>
<text x="409.60" y="318.9" font-size="4.9" fill="#111" text-anchor="middle">40uM</text>
<text x="432.30" y="318.9" font-size="4.9" fill="#111" text-anchor="middle">80uM</text>
<text x="455.00" y="318.9" font-size="4.9" fill="#111" text-anchor="middle">120uM</text>
<text x="377.5" y="336.7" font-size="6.9" font-weight="bold" fill="#000" text-anchor="start" textLength="43.3" lengthAdjust="spacingAndGlyphs">Lenalidomide</text>
<text transform="translate(288.9,265.3) rotate(-90)" x="0" y="1.76" font-size="4.9" font-weight="bold" fill="#000" text-anchor="middle" textLength="82.4" lengthAdjust="spacingAndGlyphs">Viability (% untreated control)</text>
<polyline points="318.80,234.25 341.50,233.50 364.20,235.75 386.90,233.50 409.60,235.75 432.30,235.00 455.00,237.26" fill="none" stroke="#747474" stroke-width="1.7"/>
<path d="M316.20,234.25 L318.80,231.65 L321.40,234.25 L318.80,236.85 Z" fill="#626262"/>
<path d="M338.90,233.50 L341.50,230.90 L344.10,233.50 L341.50,236.10 Z" fill="#626262"/>
<path d="M361.60,235.75 L364.20,233.15 L366.80,235.75 L364.20,238.35 Z" fill="#626262"/>
<path d="M384.30,233.50 L386.90,230.90 L389.50,233.50 L386.90,236.10 Z" fill="#626262"/>
<path d="M407.00,235.75 L409.60,233.15 L412.20,235.75 L409.60,238.35 Z" fill="#626262"/>
<path d="M429.70,235.00 L432.30,232.40 L434.90,235.00 L432.30,237.60 Z" fill="#626262"/>
<path d="M452.40,237.26 L455.00,234.66 L457.60,237.26 L455.00,239.86 Z" fill="#626262"/>
<polyline points="318.80,234.25 341.50,256.79 364.20,264.31 386.90,268.07 409.60,276.33 432.30,286.10 455.00,292.12" fill="none" stroke="#000" stroke-width="1.6"/>
<rect x="316.50" y="231.95" width="4.6" height="4.6" fill="#000"/>
<rect x="339.20" y="254.49" width="4.6" height="4.6" fill="#000"/>
<rect x="361.90" y="262.01" width="4.6" height="4.6" fill="#000"/>
<rect x="384.60" y="265.77" width="4.6" height="4.6" fill="#000"/>
<rect x="407.30" y="274.03" width="4.6" height="4.6" fill="#000"/>
<rect x="430.00" y="283.80" width="4.6" height="4.6" fill="#000"/>
<rect x="452.70" y="289.82" width="4.6" height="4.6" fill="#000"/>
<rect x="316.80" y="232.25" width="4.0" height="4.0" fill="#7a7a7a" stroke="#222" stroke-width="0.7"/>
<line x1="473.5" y1="258.2" x2="487.3" y2="258.2" stroke="#000" stroke-width="1.3"/>
<rect x="478.10" y="256.90" width="2.6" height="2.6" fill="#000"/>
<line x1="473.5" y1="268.0" x2="487.3" y2="268.0" stroke="#747474" stroke-width="1.4"/>
<path d="M477.60,268.0 L479.40,266.2 L481.20,268.0 L479.40,269.8 Z" fill="#666"/>
<text x="488.8" y="260.30" font-size="4.9" fill="#111" text-anchor="start" textLength="26.2" lengthAdjust="spacingAndGlyphs">KMS18 NT</text>
<text x="488.8" y="270.10" font-size="4.9" fill="#111" text-anchor="start" textLength="29.2" lengthAdjust="spacingAndGlyphs">KMS18 #13</text>
</svg>
</body></html>
